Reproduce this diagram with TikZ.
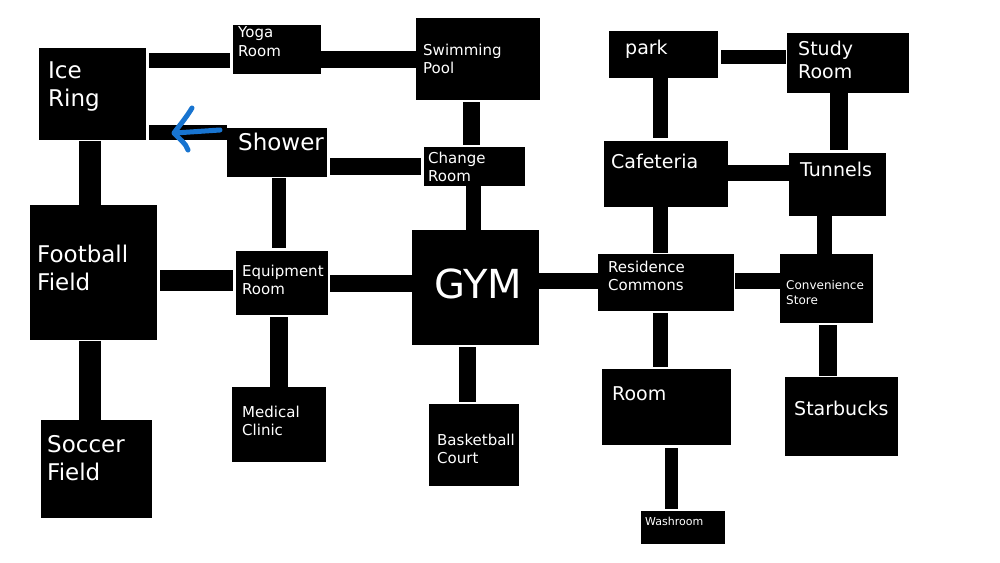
\documentclass[tikz,border=0pt]{standalone}
\usepackage{fontspec}
\setmainfont{DejaVu Sans}
\definecolor{blueink}{RGB}{24,116,208}
\tikzset{
  room/.style={fill=black, draw=none, inner sep=0pt, outer sep=0pt, anchor=north west},
  roomtext/.style={text=white, anchor=base west, align=left, inner sep=0pt},
  bigtext/.style={roomtext, font=\fontsize{23}{28}\selectfont},
  midtext/.style={roomtext, font=\fontsize{19}{23}\selectfont},
  smalltext/.style={roomtext, font=\fontsize{15}{18.5}\selectfont},
  tinytext/.style={roomtext, font=\fontsize{12}{15}\selectfont},
  passage/.style={draw=black, line width=16pt, shorten <=3pt, shorten >=3pt},
  hint/.style={draw=blueink, line width=5pt, line cap=round, line join=round}
}
\begin{document}
\begin{tikzpicture}[x=1pt, y=-1pt]
\useasboundingbox (0,0) rectangle (1000,562);
% rooms
\node[room, minimum width=107pt, minimum height=92pt] (ice) at (39,48) {};
\node[room, minimum width=88pt, minimum height=49pt] (yoga) at (233,25) {};
\node[room, minimum width=124pt, minimum height=82pt] (pool) at (416,18) {};
\node[room, minimum width=100pt, minimum height=49pt] (shower) at (227,128) {};
\node[room, minimum width=101pt, minimum height=39pt] (change) at (424,147) {};
\node[room, minimum width=127pt, minimum height=135pt] (football) at (30,205) {};
\node[room, minimum width=92pt, minimum height=64pt] (equip) at (236,251) {};
\node[room, minimum width=127pt, minimum height=115pt] (gym) at (412,230) {};
\node[room, minimum width=94pt, minimum height=75pt] (clinic) at (232,387) {};
\node[room, minimum width=90pt, minimum height=82pt] (court) at (429,404) {};
\node[room, minimum width=111pt, minimum height=98pt] (soccer) at (41,420) {};
\node[room, minimum width=109pt, minimum height=47pt] (park) at (609,31) {};
\node[room, minimum width=122pt, minimum height=60pt] (study) at (787,33) {};
\node[room, minimum width=124pt, minimum height=66pt] (cafe) at (604,141) {};
\node[room, minimum width=97pt, minimum height=63pt] (tunnels) at (789,153) {};
\node[room, minimum width=136pt, minimum height=57pt] (res) at (598,254) {};
\node[room, minimum width=93pt, minimum height=69pt] (store) at (780,254) {};
\node[room, minimum width=129pt, minimum height=76pt] (myroom) at (602,369) {};
\node[room, minimum width=113pt, minimum height=79pt] (starbucks) at (785,377) {};
\node[room, minimum width=84pt, minimum height=33pt] (wash) at (641,511) {};
% labels (base = last line)
\node[bigtext] (ice-t) at (48,106) {Ice\\Ring};
\node[smalltext] (yoga-t) at (238,56) {Yoga\\Room};
\node[smalltext] (pool-t) at (423,73.5) {Swimming\\Pool};
\node[bigtext] (shower-t) at (238,150) {Shower};
\node[smalltext] (change-t) at (428,181.5) {Change\\Room};
\node[bigtext] (football-t) at (37,290) {Football\\Field};
\node[smalltext] (equip-t) at (242,294.5) {Equipment\\Room};
\node[roomtext, font=\fontsize{40}{44}\selectfont, anchor=base] (gym-t) at (478,298) {GYM};
\node[smalltext] (clinic-t) at (242,435.5) {Medical\\Clinic};
\node[smalltext] (court-t) at (437,463.5) {Basketball\\Court};
\node[bigtext] (soccer-t) at (47,480) {Soccer\\Field};
\node[midtext] (park-t) at (625,54) {park};
\node[midtext] (study-t) at (798,78) {Study\\Room};
\node[midtext] (cafe-t) at (611,168) {Cafeteria};
\node[midtext] (tunnels-t) at (800,176) {Tunnels};
\node[smalltext] (res-t) at (608,290.5) {Residence\\Commons};
\node[tinytext] (store-t) at (786,304) {Convenience\\Store};
\node[midtext] (myroom-t) at (612,400) {Room};
\node[midtext] (starbucks-t) at (794,415) {Starbucks};
\node[roomtext, font=\fontsize{11}{13}\selectfont] (wash-t) at (645,525) {Washroom};
% passages
\draw[passage, line width=15pt] (ice.east |- 0,60) -- (yoga.west |- 0,60);
\draw[passage, line width=17pt, shorten <=0pt, shorten >=0pt] (yoga.east |- 0,59) -- (pool.west |- 0,59);
\draw[passage, line width=15pt, shorten >=0pt] (ice.east |- 0,132.5) -- (shower.west |- 0,132.5);
\draw[passage, line width=17pt] (shower.east |- 0,166.5) -- (change.west |- 0,166.5);
\draw[passage, line width=17pt, shorten <=2pt, shorten >=2pt] (pool.south -| 471.5,0) -- (change.north -| 471.5,0);
\draw[passage, line width=15pt, shorten <=0pt, shorten >=0pt] (change.south -| 473.5,0) -- (gym.north -| 473.5,0);
\draw[passage, line width=22pt, shorten <=1pt, shorten >=0pt] (ice.south -| 90,0) -- (football.north -| 90,0);
\draw[passage, line width=14pt, shorten <=1pt] (shower.south -| 279,0) -- (equip.north -| 279,0);
\draw[passage, line width=21pt] (football.east |- 0,280.5) -- (equip.west |- 0,280.5);
\draw[passage, line width=17pt, shorten <=2pt, shorten >=0pt] (equip.east |- 0,283.5) -- (gym.west |- 0,283.5);
\draw[passage, line width=18pt, shorten <=2pt, shorten >=0pt] (equip.south -| 279,0) -- (clinic.north -| 279,0);
\draw[passage, line width=17pt, shorten <=2pt, shorten >=2pt] (gym.south -| 467.5,0) -- (court.north -| 467.5,0);
\draw[passage, line width=22pt, shorten <=1pt, shorten >=0pt] (football.south -| 90,0) -- (soccer.north -| 90,0);
\draw[passage, line width=16pt, shorten <=0pt, shorten >=0pt] (gym.east |- 0,281) -- (res.west |- 0,281);
\draw[passage, line width=15pt, shorten <=0pt, shorten >=1pt] (cafe.south -| 660.5,0) -- (res.north -| 660.5,0);
\draw[passage, line width=15pt, shorten <=0pt] (park.south -| 660.5,0) -- (cafe.north -| 660.5,0);
\draw[passage, line width=14pt, shorten >=1pt] (park.east |- 0,57) -- (study.west |- 0,57);
\draw[passage, line width=18pt, shorten <=0pt] (study.south -| 839,0) -- (tunnels.north -| 839,0);
\draw[passage, line width=16pt, shorten <=0pt, shorten >=0pt] (cafe.east |- 0,173) -- (tunnels.west |- 0,173);
\draw[passage, line width=15pt, shorten <=0pt, shorten >=0pt] (tunnels.south -| 824.5,0) -- (store.north -| 824.5,0);
\draw[passage, line width=16pt, shorten <=1pt, shorten >=0pt] (res.east |- 0,281) -- (store.west |- 0,281);
\draw[passage, line width=18pt, shorten <=2pt, shorten >=1pt] (store.south -| 828,0) -- (starbucks.north -| 828,0);
\draw[passage, line width=15pt, shorten <=2pt, shorten >=2pt] (res.south -| 660.5,0) -- (myroom.north -| 660.5,0);
\draw[passage, line width=13pt, shorten <=3pt, shorten >=2pt] (myroom.south -| 671.5,0) -- (wash.north -| 671.5,0);
% blue pointer
\draw[hint] (220,130) -- (175,133);
\draw[hint] (192,108) .. controls (186,118) and (179,126) .. (174,133) .. controls (179,139) and (186,143) .. (188,150);
\end{tikzpicture}
\end{document}
